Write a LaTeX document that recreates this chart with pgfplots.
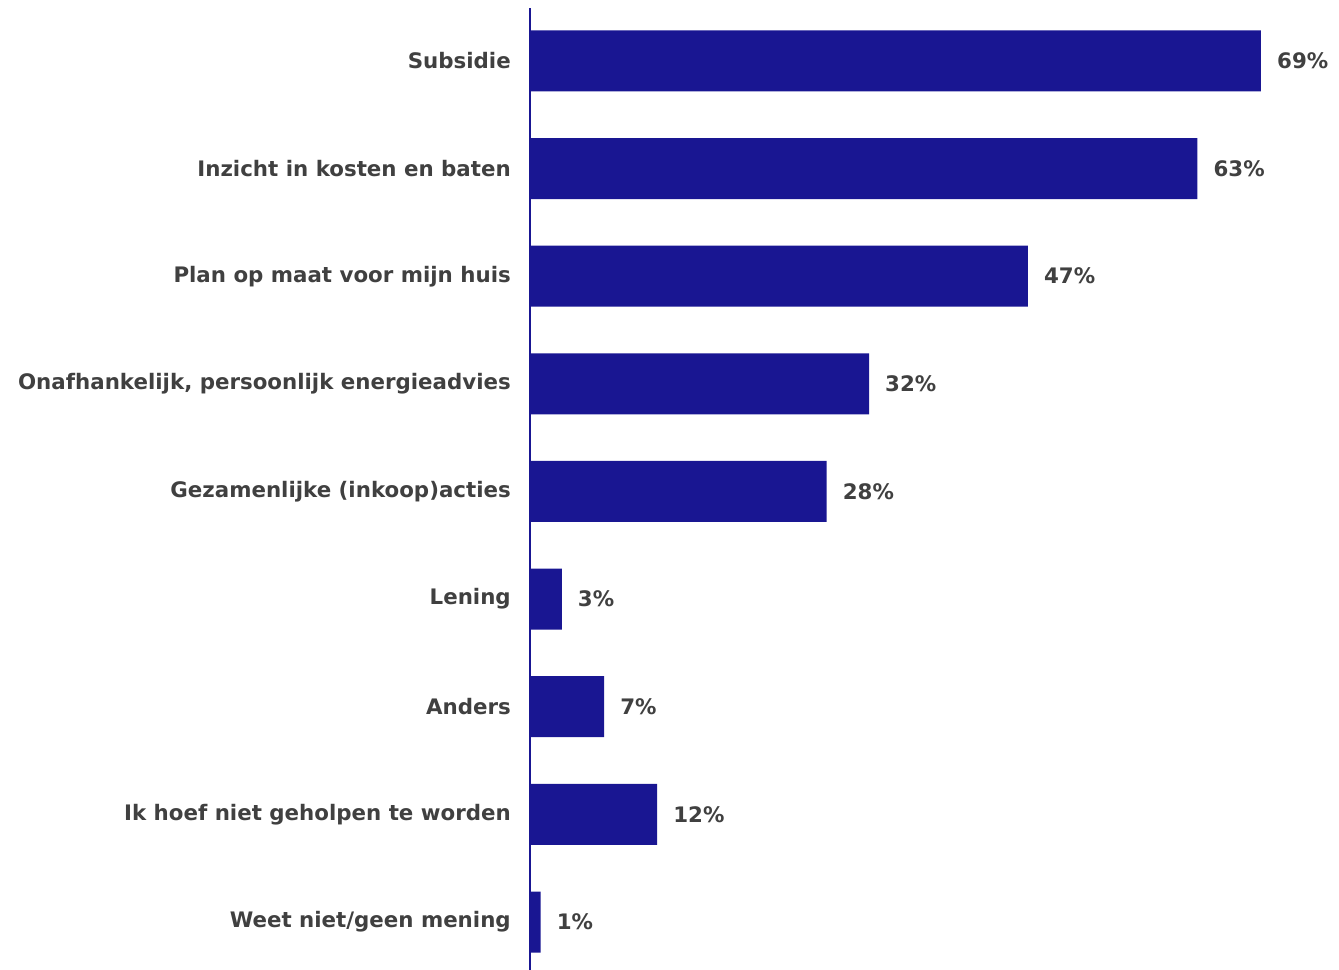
\documentclass[border=0pt]{standalone}
\usepackage{pgfplots}
\pgfplotsset{compat=1.18}
\usepackage{fontspec}
\setmainfont{DejaVu Sans}
\definecolor{barblue}{HTML}{191692}
\definecolor{txt}{HTML}{404040}
\begin{document}
\begin{tikzpicture}
\path[use as bounding box] (-106mm,0) rectangle (161.8mm,194mm);
\begin{axis}[
  at={(0,0)}, anchor=south west,
  scale only axis,
  width=146.2mm, height=192.4mm,
  xmin=0, xmax=69,
  ymin=-0.492, ymax=8.446,
  y dir=reverse,
  xbar, bar width=12.2mm,
  axis x line=none,
  axis y line*=left,
  y axis line style={barblue, line width=0.4mm, -},
  ytick={0,...,8},
  yticklabels={Subsidie,Inzicht in kosten en baten,Plan op maat voor mijn huis,{Onafhankelijk, persoonlijk energieadvies},Gezamenlijke (inkoop)acties,Lening,Anders,Ik hoef niet geholpen te worden,Weet niet/geen mening},
  major tick length=0pt,
  /pgf/number format/assume math mode=true,
  yticklabel style={font=\bfseries\fontsize{12.15pt}{14pt}\selectfont, text=txt, xshift=-2.6mm},
  nodes near coords={\pgfmathprintnumber[assume math mode=true]{\pgfplotspointmeta}\%},
  nodes near coords style={font=\bfseries\fontsize{12.15pt}{14pt}\selectfont, text=txt, anchor=west, xshift=2mm},
  clip=false,
]
\addplot[draw=none, fill=barblue] coordinates {
(69,0) (63,1) (47,2) (32,3) (28,4) (3,5) (7,6) (12,7) (1,8)
};
\end{axis}
\end{tikzpicture}
\end{document}
